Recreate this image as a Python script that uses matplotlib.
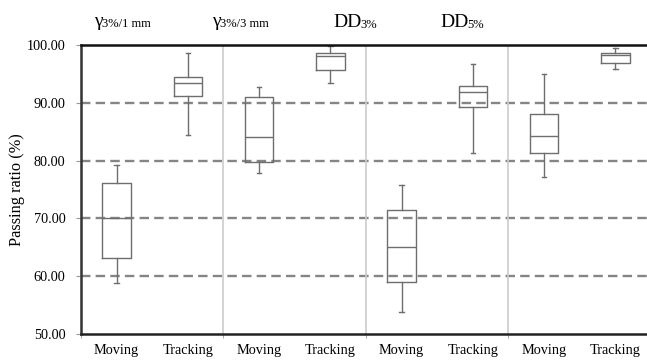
import matplotlib
matplotlib.use("Agg")
import matplotlib.pyplot as plt

plt.rcParams['font.family'] = ['Liberation Serif', 'DejaVu Serif']

# Box statistics per condition (passing ratio, %)
labels = ["Moving", "Tracking"] * 4
whislo = [58.8, 84.5, 77.8, 93.4, 53.8, 81.3, 77.2, 95.8]
q1 = [63.1, 91.2, 79.7, 95.7, 59.0, 89.2, 81.3, 96.8]
med = [70.0, 93.5, 84.1, 98.1, 65.1, 91.9, 84.2, 98.3]
q3 = [76.2, 94.4, 91.0, 98.6, 71.4, 92.9, 88.0, 98.7]
whishi = [79.2, 98.7, 92.8, 99.8, 75.7, 96.7, 94.9, 99.4]

group_main = ["γ", "γ", "DD", "DD"]
group_sub = ["3%/1 mm", "3%/3 mm", "3%", "5%"]

yticks = [50, 60, 70, 80, 90, 100]

W, H = 647, 360
fig = plt.figure(figsize=(W / 100, H / 100), dpi=100)
ax = fig.add_axes([81 / W, 1 - 334 / H, (651 - 81) / W, (334 - 45) / H])

stats = [dict(whislo=a, q1=b, med=c, q3=d, whishi=e, fliers=[])
         for a, b, c, d, e in zip(whislo, q1, med, q3, whishi)]
box_color = "#6e6e6e"
ax.bxp(stats, positions=range(len(stats)), widths=0.40, capwidths=0.065,
       showfliers=False, patch_artist=False,
       boxprops=dict(color=box_color, linewidth=1.0),
       medianprops=dict(color=box_color, linewidth=1.0),
       whiskerprops=dict(color=box_color, linewidth=1.0),
       capprops=dict(color=box_color, linewidth=1.0))

ax.set_xlim(-0.5, 7.5)
ax.set_ylim(50, 100)

# Horizontal dashed reference lines
for v in yticks[1:-1]:
    ax.axhline(v, color="#858585", linewidth=1.7,
               linestyle=(0, (4.0, 2.2)), zorder=0)

# Group separators
for xs in [1.5, 3.5, 5.5]:
    ax.axvline(xs, color="#cccccc", linewidth=1.2, zorder=0)

ax.set_yticks(yticks)
ax.set_yticklabels([f"{v:.2f}" for v in yticks], fontsize=10.3)
ax.set_xticks(range(len(labels)))
ax.set_xticklabels(labels, fontsize=10.3)
ax.set_xticks([-0.5, 1.5, 3.5, 5.5], minor=True)
ax.tick_params(axis="x", which="major", length=0, pad=7.5)
ax.tick_params(axis="x", which="minor", length=3, color="#999999")
ax.tick_params(axis="y", length=3.3, width=0.8, color="#999999", pad=8)

ax.set_ylabel("Passing ratio (%)", fontsize=11.8, labelpad=1)

for side in ["left", "top", "bottom"]:
    ax.spines[side].set_linewidth(1.8)
ax.spines["left"].set_color("#333333")
ax.spines["top"].set_color("#111111")
ax.spines["bottom"].set_color("#222222")
ax.spines["right"].set_visible(False)

# Group headings: large main symbol followed by a smaller suffix
split_x = [103, 221, 362, 469]
main_base = [26.5, 26.5, 27, 27]
sub_base = [26.7, 26.7, 28, 28]
for sx, m, s, mb, sb in zip(split_x, group_main, group_sub, main_base, sub_base):
    fig.text(sx / W, 1 - mb / H, m, fontsize=14, ha="right", va="baseline")
    fig.text((sx - 1.5) / W, 1 - sb / H, s, fontsize=9, ha="left", va="baseline")

fig.savefig("out.png", dpi=100)
